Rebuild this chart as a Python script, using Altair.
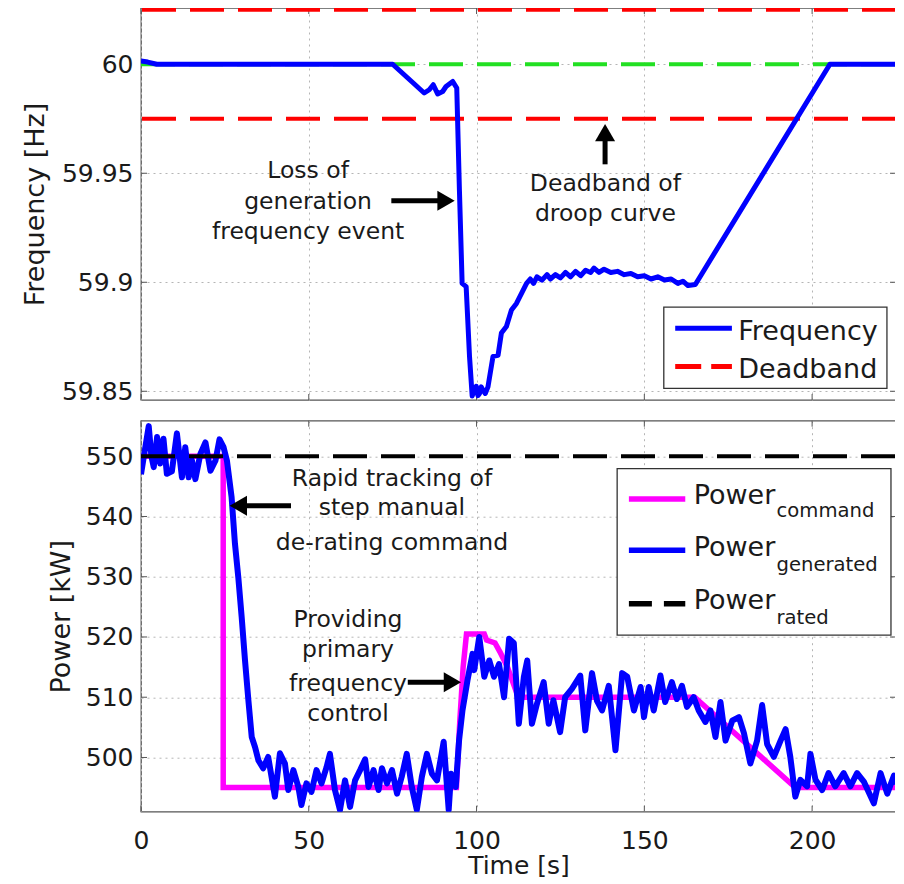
import altair as alt
import pandas as pd

# ---------------- data ----------------
freq_time = [0, 2, 4.7, 75.0, 84.4, 85.9, 87.1, 88.4, 89.9, 90.9, 92.9, 94.1, 94.9, 95.7,
             96.9, 97.9, 98.7, 99.4, 99.9, 100.4, 100.9, 101.4, 101.9, 102.6, 103.4, 104.9,
             106.4, 107.4, 108.9, 110.4, 111.9, 113.4, 114.9, 116, 117, 118, 119.5, 121,
             122, 123.5, 125, 126.5, 128, 129.5, 131, 132.5, 134, 135, 136.5, 138, 140,
             142, 144, 146, 148, 150, 152, 154, 156, 158, 160, 161.5, 163, 165.2, 205.3, 225]
freq_hz = [60.0015, 60.001, 60.0, 60.0, 59.9868, 59.9883, 59.9906, 59.9864, 59.9875, 59.9898,
           59.9921, 59.9891, 59.942, 59.8995, 59.898, 59.866, 59.8478, 59.851, 59.8523, 59.848,
           59.849, 59.852, 59.8505, 59.849, 59.852, 59.866, 59.8665, 59.8767, 59.8797, 59.8873,
           59.8903, 59.8949, 59.8995, 59.9015, 59.8995, 59.9025, 59.901, 59.9035, 59.9015,
           59.9035, 59.902, 59.9045, 59.9025, 59.905, 59.903, 59.9055, 59.9045, 59.9065,
           59.9045, 59.906, 59.9045, 59.905, 59.9035, 59.904, 59.9025, 59.903, 59.9015,
           59.9025, 59.901, 59.9015, 59.8995, 59.9005, 59.8985, 59.899, 60.0, 60.0]

nominal_hz = 60.0
deadband_hz = [60.025, 59.975]
rated_kw = 550

cmd_time = [0, 24.5, 24.5, 94.0, 95.0, 96.0, 97.0, 102.3, 103.0, 105.5, 107.0, 109.2, 112.3,
            114.0, 165.0, 195.0, 225]
cmd_kw = [550, 550, 495, 495, 506, 515, 520.5, 520.5, 519.5, 519.0, 517.5, 515.0, 510.2,
          510.0, 510.0, 495.0, 495.0]

gen_time = [0, 1.0, 2.3, 3.1, 3.8, 4.8, 5.7, 6.7, 7.7, 9.2, 10.7, 12.2, 13.2, 14.2, 15.2, 16.2,
            17.7, 19.2, 20.7, 22.2, 23.4, 24.6, 25.6, 27.0, 28.0, 29.0, 30.0, 31.0, 32.0, 33.0,
            34.0, 35.0, 36.4, 37.9, 38.9, 39.9, 41.4, 42.9, 43.9, 45.4, 46.9, 47.8, 49.3, 50.8,
            52.3, 53.8, 55.3, 56.3, 57.8, 59.3, 60.8, 62.3, 63.8, 65.3, 66.8, 67.8, 69.3, 70.8,
            71.8, 73.3, 74.8, 76.3, 77.7, 79.2, 80.7, 82.2, 83.7, 85.2, 86.7, 88.2, 90.2, 91.7,
            92.4, 93.8, 94.8, 95.8, 97.3, 98.8, 99.3, 100.8, 102.3, 103.8, 105.2, 106.7, 108.2,
            109.7, 111.1, 112.6, 114.1, 115.1, 116.5, 118.0, 120.0, 121.5, 122.9, 124.9, 126.4,
            128.4, 130.9, 132.4, 134.4, 135.9, 137.4, 139.4, 141.4, 143.4, 144.9, 146.9, 148.9,
            149.9, 151.3, 152.8, 154.8, 156.2, 158.2, 159.7, 161.2, 162.7, 164.7, 166.2, 168.2,
            169.7, 171.2, 172.7, 174.2, 176.2, 178.2, 179.7, 181.6, 183.6, 185.1, 186.6, 188.6,
            190.6, 192.1, 193.5, 195.0, 196.5, 198.5, 199.5, 201.0, 203.0, 204.9, 206.9, 209.4,
            211.4, 213.4, 215.4, 218.4, 220.4, 222.4, 224.4, 225]
gen_kw = [547.0, 550.5, 555.0, 550.0, 548.2, 553.2, 548.8, 552.9, 547.1, 547.5, 553.8, 546.5,
          551.5, 546.5, 549.3, 546.2, 550.4, 552.3, 547.6, 549.3, 552.8, 551.5, 549.3, 543.2,
          535.5, 529.9, 523.3, 516.1, 509.5, 503.4, 501.7, 499.5, 498.2, 500.1, 496.8, 493.5,
          500.7, 499.0, 494.6, 497.9, 495.1, 492.1, 495.7, 494.3, 497.9, 495.7, 498.4, 500.6,
          494.6, 491.3, 496.2, 491.8, 496.2, 497.9, 499.7, 495.1, 497.9, 494.6, 498.2, 495.7,
          497.9, 494.0, 496.8, 500.6, 495.1, 491.3, 496.8, 500.6, 497.3, 496.2, 502.6, 491.3,
          497.3, 495.1, 502.9, 507.8, 512.8, 517.2, 514.5, 520.0, 513.4, 516.1, 513.4, 515.5,
          510.0, 519.7, 519.0, 505.6, 513.4, 516.1, 505.6, 508.9, 512.5, 505.6, 509.5, 504.2,
          510.0, 511.4, 513.6, 504.5, 514.0, 509.4, 507.8, 511.9, 501.2, 514.0, 513.4, 507.8,
          511.7, 506.7, 511.7, 507.8, 513.6, 509.2, 512.5, 509.7, 511.9, 508.4, 510.0, 507.8,
          505.9, 507.8, 503.4, 509.2, 502.8, 506.1, 506.7, 504.0, 499.0, 502.8, 508.7, 502.2,
          500.1, 502.8, 504.7, 500.1, 493.5, 496.3, 495.2, 500.6, 496.3, 494.6, 497.4, 495.2,
          497.4, 495.2, 497.4, 496.0, 492.4, 497.4, 494.0, 497.0, 495.5]

x_ticks = [0, 50, 100, 150, 200]
f_ticks = [59.85, 59.9, 59.95, 60]
p_ticks = [500, 510, 520, 530, 540, 550]

# annotation texts (data coordinates: time, value)
top_notes = ["Loss of", "generation", "frequency event", "Deadband of", "droop curve"]
top_notes_t = [49.8, 49.8, 49.8, 138.4, 138.4]
top_notes_v = [59.948, 59.9336, 59.920, 59.942, 59.9283]
bot_notes = ["Rapid tracking of", "step manual", "de-rating command",
             "Providing", "primary", "frequency", "control"]
bot_notes_t = [74.8, 74.8, 74.8, 61.7, 61.7, 61.7, 61.7]
bot_notes_v = [545.1, 540.2, 534.4, 521.6, 516.6, 511.1, 506.1]

# ---------------- styling ----------------
FONT = "DejaVu Sans"
TXT = "#1a1a1a"
W, H1, H2 = 755, 392, 391
XS = alt.Scale(domain=[0, 225], nice=False, zero=False)
FS = alt.Scale(domain=[59.846, 60.0258], nice=False, zero=False)
PS = alt.Scale(domain=[491, 555.9], nice=False, zero=False)
DASH = [34, 14]
GRID = dict(grid=True, gridDash=[2, 4], gridColor="#b5b5b5", gridWidth=1)

ax_top_x = alt.Axis(values=x_ticks, labels=False, ticks=False, domain=False, title=None, **GRID)
ax_top_y = alt.Axis(values=f_ticks, format="~g", ticks=False, domain=False,
                    labelFont=FONT, labelFontSize=25, labelColor=TXT, labelPadding=8,
                    title="Frequency [Hz]", titleFont=FONT, titleFontSize=27,
                    titleFontWeight="normal", titleColor=TXT, titleX=-105.7, titleY=H1 / 2,
                    titleAlign="center", titleBaseline="middle", **GRID)
ax_bot_x = alt.Axis(values=x_ticks, ticks=False, domain=False, labelFont=FONT,
                    labelFontSize=25, labelColor=TXT, labelPadding=17, labelFlush=False,
                    title="Time [s]", titleFont=FONT, titleFontSize=25,
                    titleFontWeight="normal", titleColor=TXT, titlePadding=0, **GRID)
ax_bot_y = alt.Axis(values=p_ticks, ticks=False, domain=False, labelFont=FONT,
                    labelFontSize=25, labelColor=TXT, labelPadding=8, title="Power [kW]",
                    titleFont=FONT, titleFontSize=27, titleFontWeight="normal",
                    titleColor=TXT, titleX=-79.7, titleY=H2 / 2, titleAlign="center",
                    titleBaseline="middle", **GRID)


def X(field, axis):
    return alt.X(f"{field}:Q", scale=XS, axis=axis)


def Y(field, scale, axis):
    return alt.Y(f"{field}:Q", scale=scale, axis=axis)


def inner_ticks(xvals, yvals, yscale, xaxis, yaxis, h):
    dx = pd.DataFrame({"t": xvals})
    dy = pd.DataFrame({"v": yvals})
    col = "#555555"
    return [
        alt.Chart(dx).mark_rule(color=col, strokeWidth=1).encode(
            x=X("t", xaxis), y=alt.value(h), y2=alt.value(h - 6)),
        alt.Chart(dx).mark_rule(color=col, strokeWidth=1).encode(
            x=X("t", xaxis), y=alt.value(0), y2=alt.value(6)),
        alt.Chart(dy).mark_rule(color=col, strokeWidth=1).encode(
            y=Y("v", yscale, yaxis), x=alt.value(0), x2=alt.value(6)),
        alt.Chart(dy).mark_rule(color=col, strokeWidth=1).encode(
            y=Y("v", yscale, yaxis), x=alt.value(W - 6), x2=alt.value(W)),
    ]


# ---------------- top panel ----------------
df_freq = pd.DataFrame({"t": freq_time, "v": freq_hz})
df_nom = pd.DataFrame({"t": [0, 225], "v": [nominal_hz, nominal_hz]})
df_db = pd.DataFrame({"v": deadband_hz})

top_layers = inner_ticks(x_ticks, f_ticks, FS, ax_top_x, ax_top_y, H1)
top_layers += [
    alt.Chart(df_nom).mark_line(color="#22e022", strokeWidth=4, strokeDash=DASH)
    .encode(x=X("t", ax_top_x), y=Y("v", FS, ax_top_y)),
    alt.Chart(df_db).mark_rule(color="#ff0000", strokeWidth=4, strokeDash=DASH)
    .encode(y=Y("v", FS, ax_top_y)),
    alt.Chart(df_freq).mark_line(color="#0000ff", strokeWidth=5, strokeJoin="round", clip=True)
    .encode(x=X("t", ax_top_x), y=Y("v", FS, ax_top_y)),
]

df_top_notes = pd.DataFrame({"label": top_notes, "t": top_notes_t, "v": top_notes_v})
top_layers.append(
    alt.Chart(df_top_notes).mark_text(font=FONT, fontSize=23.5, color=TXT, align="center",
                                      baseline="alphabetic")
    .encode(x=X("t", ax_top_x), y=Y("v", FS, ax_top_y), text="label:N"))

df_top_shaft_h = pd.DataFrame({"t0": [74.6], "t1": [90.9], "v": [59.9374]})
df_top_shaft_v = pd.DataFrame({"t": [138.3], "v0": [59.9541], "v1": [59.9686]})
df_top_heads = pd.DataFrame({"t": [90.9, 138.3], "v": [59.9374, 59.9686],
                             "shape": ["triangle-right", "triangle-up"]})
top_layers += [
    alt.Chart(df_top_shaft_h).mark_rule(color="black", strokeWidth=5)
    .encode(x=X("t0", ax_top_x), x2="t1", y=Y("v", FS, ax_top_y)),
    alt.Chart(df_top_shaft_v).mark_rule(color="black", strokeWidth=5)
    .encode(x=X("t", ax_top_x), y=Y("v0", FS, ax_top_y), y2="v1"),
    alt.Chart(df_top_heads).mark_point(filled=True, color="black", opacity=1, size=400)
    .encode(x=X("t", ax_top_x), y=Y("v", FS, ax_top_y),
            shape=alt.Shape("shape:N", scale=None, legend=None)),
]

df_leg1_box = pd.DataFrame({"t0": [155.8], "t1": [222.3], "v0": [59.8886], "v1": [59.8513]})
df_leg1_line = pd.DataFrame({"t0": [159.2], "t1": [176.1], "v": [59.8789]})
df_leg1_dash = pd.DataFrame({"t0": [159.2], "t1": [176.1], "v": [59.8614]})
df_leg1_text = pd.DataFrame({"label": ["Frequency", "Deadband"], "t": [178.0, 178.0],
                             "v": [59.8736, 59.8561]})
top_layers += [
    alt.Chart(df_leg1_box).mark_rect(fill="white", stroke="#333333", strokeWidth=1.3)
    .encode(x=X("t0", ax_top_x), x2="t1", y=Y("v0", FS, ax_top_y), y2="v1"),
    alt.Chart(df_leg1_line).mark_rule(color="#0000ff", strokeWidth=5)
    .encode(x=X("t0", ax_top_x), x2="t1", y=Y("v", FS, ax_top_y)),
    alt.Chart(df_leg1_dash).mark_rule(color="#ff0000", strokeWidth=5, strokeDash=[26, 10])
    .encode(x=X("t0", ax_top_x), x2="t1", y=Y("v", FS, ax_top_y)),
    alt.Chart(df_leg1_text).mark_text(font=FONT, fontSize=27, color=TXT, align="left",
                                      baseline="alphabetic")
    .encode(x=X("t", ax_top_x), y=Y("v", FS, ax_top_y), text="label:N"),
]

top = alt.layer(*top_layers).properties(width=W, height=H1)

# ---------------- bottom panel ----------------
df_cmd = pd.DataFrame({"t": cmd_time, "v": cmd_kw})
df_gen = pd.DataFrame({"t": gen_time, "v": gen_kw})
df_rated = pd.DataFrame({"t": [0, 225], "v": [rated_kw, rated_kw]})

bot_layers = inner_ticks(x_ticks, p_ticks, PS, ax_bot_x, ax_bot_y, H2)
bot_layers += [
    alt.Chart(df_cmd).mark_line(color="#ff00ff", strokeWidth=5.5, clip=True)
    .encode(x=X("t", ax_bot_x), y=Y("v", PS, ax_bot_y)),
    alt.Chart(df_gen).mark_line(color="#0000ff", strokeWidth=6, strokeJoin="round", clip=True)
    .encode(x=X("t", ax_bot_x), y=Y("v", PS, ax_bot_y)),
    alt.Chart(df_rated).mark_line(color="black", strokeWidth=4, strokeDash=DASH, clip=True)
    .encode(x=X("t", ax_bot_x), y=Y("v", PS, ax_bot_y)),
]

df_bot_notes = pd.DataFrame({"label": bot_notes, "t": bot_notes_t, "v": bot_notes_v})
bot_layers.append(
    alt.Chart(df_bot_notes).mark_text(font=FONT, fontSize=23.5, color=TXT, align="center",
                                      baseline="alphabetic")
    .encode(x=X("t", ax_bot_x), y=Y("v", PS, ax_bot_y), text="label:N"))

df_bot_shaft = pd.DataFrame({"t0": [44.7, 79.5], "t1": [29.0, 92.8], "v": [541.8, 512.5]})
df_bot_heads = pd.DataFrame({"t": [29.0, 92.8], "v": [541.8, 512.5],
                             "shape": ["triangle-left", "triangle-right"]})
bot_layers += [
    alt.Chart(df_bot_shaft).mark_rule(color="black", strokeWidth=5)
    .encode(x=X("t0", ax_bot_x), x2="t1", y=Y("v", PS, ax_bot_y)),
    alt.Chart(df_bot_heads).mark_point(filled=True, color="black", opacity=1, size=400)
    .encode(x=X("t", ax_bot_x), y=Y("v", PS, ax_bot_y),
            shape=alt.Shape("shape:N", scale=None, legend=None)),
]

df_leg2_box = pd.DataFrame({"t0": [141.9], "t1": [223.5], "v0": [547.96], "v1": [520.3]})
df_leg2_lines = pd.DataFrame({"t0": [145.4, 145.4], "t1": [162.2, 162.2], "v": [542.9, 534.4],
                              "c": ["#ff00ff", "#0000ff"]})
df_leg2_dash = pd.DataFrame({"t0": [145.4], "t1": [162.2], "v": [525.5]})
df_leg2_main = pd.DataFrame({"label": ["Power", "Power", "Power"], "t": [164.7] * 3,
                             "v": [542.1, 533.5, 524.7]})
df_leg2_sub = pd.DataFrame({"label": ["command", "generated", "rated"], "t": [189.4] * 3,
                            "v": [539.85, 531.0, 522.2]})
bot_layers += [
    alt.Chart(df_leg2_box).mark_rect(fill="white", stroke="#333333", strokeWidth=1.3)
    .encode(x=X("t0", ax_bot_x), x2="t1", y=Y("v0", PS, ax_bot_y), y2="v1"),
    alt.Chart(df_leg2_lines).mark_rule(strokeWidth=5.5)
    .encode(x=X("t0", ax_bot_x), x2="t1", y=Y("v", PS, ax_bot_y),
            color=alt.Color("c:N", scale=None, legend=None)),
    alt.Chart(df_leg2_dash).mark_rule(color="black", strokeWidth=5.5, strokeDash=[23, 12])
    .encode(x=X("t0", ax_bot_x), x2="t1", y=Y("v", PS, ax_bot_y)),
    alt.Chart(df_leg2_main).mark_text(font=FONT, fontSize=27, color=TXT, align="left",
                                      baseline="alphabetic")
    .encode(x=X("t", ax_bot_x), y=Y("v", PS, ax_bot_y), text="label:N"),
    alt.Chart(df_leg2_sub).mark_text(font=FONT, fontSize=19.6, color=TXT, align="left",
                                     baseline="alphabetic")
    .encode(x=X("t", ax_bot_x), y=Y("v", PS, ax_bot_y), text="label:N"),
]

bottom = alt.layer(*bot_layers).properties(width=W, height=H2)

chart = (
    alt.vconcat(top, bottom, spacing=13.7)
    .properties(padding={"left": 12, "top": -2, "right": -10, "bottom": -2.5})
    .configure(font=FONT)
    .configure_view(stroke="#555555", strokeWidth=1.3)
)

chart.save("out.html", embed_options={"renderer": "svg", "actions": False})
